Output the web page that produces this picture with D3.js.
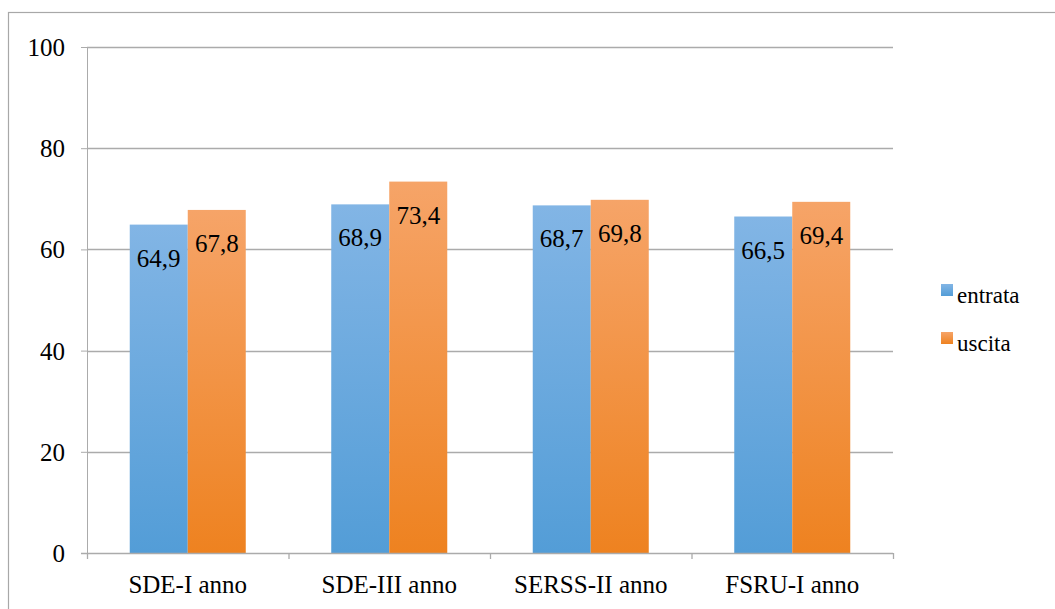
<!DOCTYPE html>
<html>
<head>
<meta charset="utf-8">
<script src="https://cdn.jsdelivr.net/npm/d3@7"></script>
<style>
  html, body { margin: 0; padding: 0; background: #fff; }
  svg { display: block; }
</style>
</head>
<body>
<svg id="chart" width="1055" height="609"></svg>
<script>
// Chart data
const categories = ["SDE-I anno", "SDE-III anno", "SERSS-II anno", "FSRU-I anno"];
const seriesNames = ["entrata", "uscita"];
const entrata = [64.9, 68.9, 68.7, 66.5];
const uscita = [67.8, 73.4, 69.8, 69.4];
const yTicks = [0, 20, 40, 60, 80, 100];

const seriesValues = [entrata, uscita];
const gradients = {
  entrata: ["#82b5e5", "#539dd7"],
  uscita: ["#f6a468", "#ee8220"]
};

const svg = d3.select("#chart");
const gridColor = "#ababab";

// Labels use the page's default (Times-style) serif face
function label(sel, size) {
  sel.attr("font-family", null).style("font-size", size + "px").style("fill", "#000");
}

// Outer frame
svg.append("rect")
  .attr("x", 8.5).attr("y", 12.5)
  .attr("width", 1200).attr("height", 800)
  .attr("fill", "none").attr("stroke", "#a8a8a8").attr("stroke-width", 1.2);

const plot = { left: 87, right: 893, top: 47, bottom: 553 };

const x = d3.scaleBand().domain(categories).range([plot.left, plot.right]).padding(0);
const xs = d3.scaleBand().domain(seriesNames).range([0, x.bandwidth()])
  .paddingInner(0).paddingOuter(0.737);
const y = d3.scaleLinear().domain([0, 100]).range([plot.bottom, plot.top]);

// Gradients
const defs = svg.append("defs");
seriesNames.forEach(s => {
  const g = defs.append("linearGradient").attr("id", "grad-" + s)
    .attr("x1", 0).attr("y1", 0).attr("x2", 0).attr("y2", 1);
  g.append("stop").attr("offset", "0%").attr("stop-color", gradients[s][0]);
  g.append("stop").attr("offset", "100%").attr("stop-color", gradients[s][1]);
});

// Y axis and horizontal gridlines
const yAxis = d3.axisLeft(y).tickValues(yTicks).tickSize(6).tickPadding(16)
  .tickFormat(d3.format("d"));
const yg = svg.append("g").attr("transform", `translate(${plot.left},0)`).call(yAxis)
  .attr("font-family", null).attr("font-size", null);
yg.select(".domain").attr("stroke", gridColor);
yg.selectAll(".tick line").attr("stroke", gridColor);
yg.selectAll(".tick text").call(label, 25).attr("dy", "0.34em");

svg.append("g").selectAll("line").data(yTicks.filter(d => d > 0)).join("line")
  .attr("x1", plot.left).attr("x2", plot.right)
  .attr("y1", d => Math.round(y(d)) + 0.5).attr("y2", d => Math.round(y(d)) + 0.5)
  .attr("stroke", gridColor).attr("stroke-width", 1.3);

// Bars with value labels
const groups = svg.append("g").selectAll("g").data(categories).join("g")
  .attr("transform", d => `translate(${x(d)},0)`);

seriesNames.forEach((s, si) => {
  groups.append("rect")
    .attr("x", xs(s))
    .attr("width", xs.bandwidth())
    .attr("y", (d, i) => y(seriesValues[si][i]))
    .attr("height", (d, i) => y(0) - y(seriesValues[si][i]))
    .attr("fill", `url(#grad-${s})`);
  groups.append("text")
    .attr("x", xs(s) + xs.bandwidth() / 2)
    .attr("y", (d, i) => y(seriesValues[si][i]) + 42)
    .attr("text-anchor", "middle")
    .call(label, 25)
    .text((d, i) => String(seriesValues[si][i]).replace(".", ","));
});

// X axis
const xAxis = d3.axisBottom(x).tickSize(0).tickPadding(22);
const xg = svg.append("g").attr("transform", `translate(0,${plot.bottom})`).call(xAxis)
  .attr("font-family", null).attr("font-size", null);
xg.select(".domain").remove();
xg.selectAll(".tick text").call(label, 25);
svg.append("line")
  .attr("x1", plot.left - 6).attr("x2", plot.right)
  .attr("y1", plot.bottom + 0.5).attr("y2", plot.bottom + 0.5)
  .attr("stroke", gridColor).attr("stroke-width", 1.3);
const boundaries = categories.map(c => x(c)).concat([plot.right]);
svg.append("g").selectAll("line").data(boundaries).join("line")
  .attr("x1", d => d + 0.5).attr("x2", d => d + 0.5)
  .attr("y1", plot.bottom).attr("y2", plot.bottom + 6)
  .attr("stroke", gridColor).attr("stroke-width", 1.3);

// Legend
const legend = svg.append("g").attr("transform", "translate(941,284)");
seriesNames.forEach((s, i) => {
  const row = legend.append("g").attr("transform", `translate(0,${i * 48})`);
  row.append("rect").attr("width", 12).attr("height", 12).attr("fill", `url(#grad-${s})`);
  row.append("text").attr("x", 16).attr("y", 19).call(label, 23).text(s);
});
</script>
</body>
</html>
